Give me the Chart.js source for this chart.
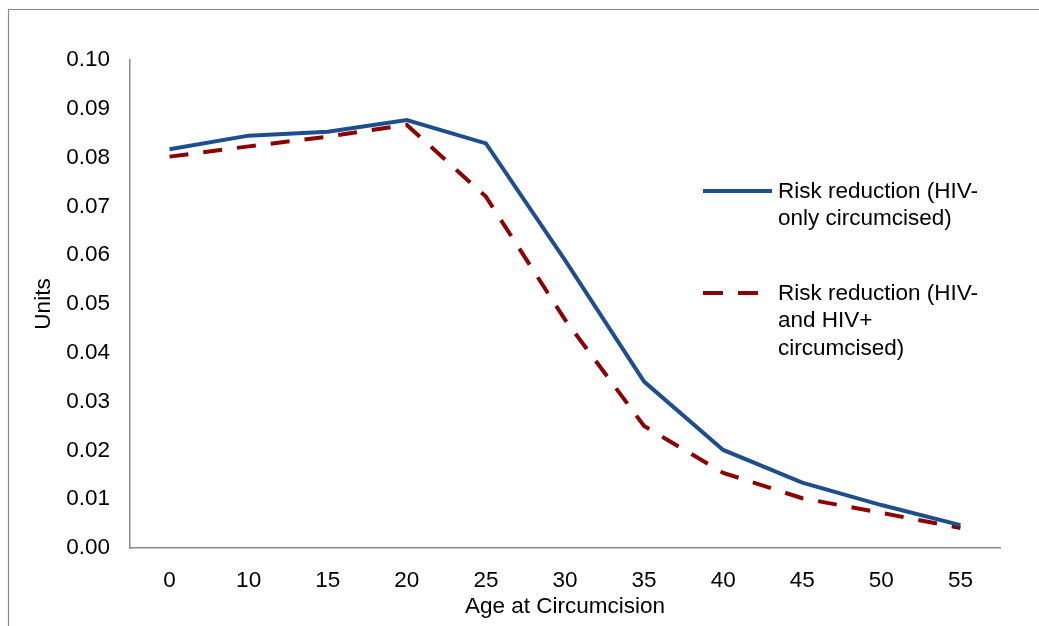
<!DOCTYPE html>
<html>
<head>
<meta charset="utf-8">
<script src="https://cdn.jsdelivr.net/npm/chart.js@4"></script>
<style>
  html, body { margin: 0; padding: 0; background: #fff; }
  #wrap { width: 1039px; height: 626px; }
</style>
</head>
<body>
<div id="wrap"><canvas id="c" width="1039" height="626"></canvas></div>
<script>
const ages = ["0", "10", "15", "20", "25", "30", "35", "40", "45", "50", "55"];
const hivNegOnly = [0.0817, 0.0845, 0.0853, 0.0877, 0.0829, 0.0590, 0.0341, 0.0201, 0.0134, 0.0088, 0.0047];
const hivNegAndPos = [0.0802, 0.0823, 0.0843, 0.0867, 0.0720, 0.0468, 0.0250, 0.0154, 0.0102, 0.0072, 0.0041];
const seriesLabels = ["Risk reduction (HIV-only circumcised)", "Risk reduction (HIV- and HIV+ circumcised)"];
const legendLines = [["Risk reduction (HIV-", "only circumcised)"], ["Risk reduction (HIV-", "and HIV+", "circumcised)"]];
const yTicks = [0, 0.01, 0.02, 0.03, 0.04, 0.05, 0.06, 0.07, 0.08, 0.09, 0.10];

const FONT = "'Liberation Sans', Arial, sans-serif";
const FS = 22.5;
const BLUE = "#1f4e8c";
const RED = "#8b0000";

const framePlugin = {
  id: 'frame',
  afterDraw(chart) {
    const ctx = chart.ctx;
    ctx.save();
    ctx.strokeStyle = "#8a8a8a";
    ctx.lineWidth = 1.2;
    ctx.beginPath();
    ctx.moveTo(8.5, 626);
    ctx.lineTo(8.5, 9.5);
    ctx.lineTo(1039, 9.5);
    ctx.stroke();
    ctx.restore();
  }
};

const legendPlugin = {
  id: 'customLegend',
  afterDraw(chart) {
    const ctx = chart.ctx;
    ctx.save();
    ctx.font = FS + "px " + FONT;
    ctx.fillStyle = "#000";
    ctx.textBaseline = "middle";
    ctx.textAlign = "left";
    const starts = [191, 293];
    chart.data.datasets.forEach((ds, i) => {
      const y = starts[i];
      ctx.beginPath();
      ctx.strokeStyle = ds.borderColor;
      ctx.lineWidth = ds.borderWidth;
      ctx.setLineDash(ds.borderDash ? [20, 15] : []);
      ctx.lineCap = 'butt';
      ctx.moveTo(703, y);
      ctx.lineTo(ds.borderDash ? 758 : 772, y);
      ctx.stroke();
      ctx.setLineDash([]);
      legendLines[i].forEach((t, j) => {
        ctx.fillText(t, 778, y + 1 + j * 27.2);
      });
    });
    ctx.restore();
  }
};

new Chart(document.getElementById('c'), {
  type: 'line',
  data: {
    labels: ages,
    datasets: [
      {
        label: seriesLabels[0],
        data: hivNegOnly,
        borderColor: BLUE,
        backgroundColor: BLUE,
        borderWidth: 4,
        pointRadius: 0,
        tension: 0,
        fill: false
      },
      {
        label: seriesLabels[1],
        data: hivNegAndPos,
        borderColor: RED,
        backgroundColor: RED,
        borderWidth: 4,
        borderDash: [19, 15],
        pointRadius: 0,
        tension: 0,
        fill: false
      }
    ]
  },
  options: {
    responsive: false,
    animation: false,
    devicePixelRatio: 1,
    layout: { padding: { left: 0, right: 39, top: 60, bottom: 0 } },
    plugins: {
      legend: { display: false },
      tooltip: { enabled: false },
      title: { display: false }
    },
    scales: {
      x: {
        type: 'category',
        offset: true,
        grid: { display: false, drawTicks: false },
        border: { display: true, color: "#8a8a8a", width: 1.5 },
        ticks: { color: "#000", font: { family: FONT, size: FS }, padding: 19, maxRotation: 0, autoSkip: false },
        title: { display: true, text: "Age at Circumcision", color: "#000", font: { family: FONT, size: FS }, padding: { top: 0, bottom: 6 } },
        afterFit(scale) { scale.height = 78; }
      },
      y: {
        min: 0,
        max: 0.10,
        afterBuildTicks(scale) { scale.ticks = yTicks.map(v => ({ value: v })); },
        grid: { display: false, drawTicks: false },
        border: { display: true, color: "#8a8a8a", width: 1.5 },
        ticks: {
          color: "#000",
          font: { family: FONT, size: FS },
          padding: 20,
          callback: v => Number(v).toFixed(2)
        },
        title: { display: true, text: "Units", color: "#000", font: { family: FONT, size: FS }, padding: { top: 30, bottom: 0 } },
        afterFit(scale) { scale.width = 130; }
      }
    }
  },
  plugins: [framePlugin, legendPlugin]
});
</script>
</body>
</html>
